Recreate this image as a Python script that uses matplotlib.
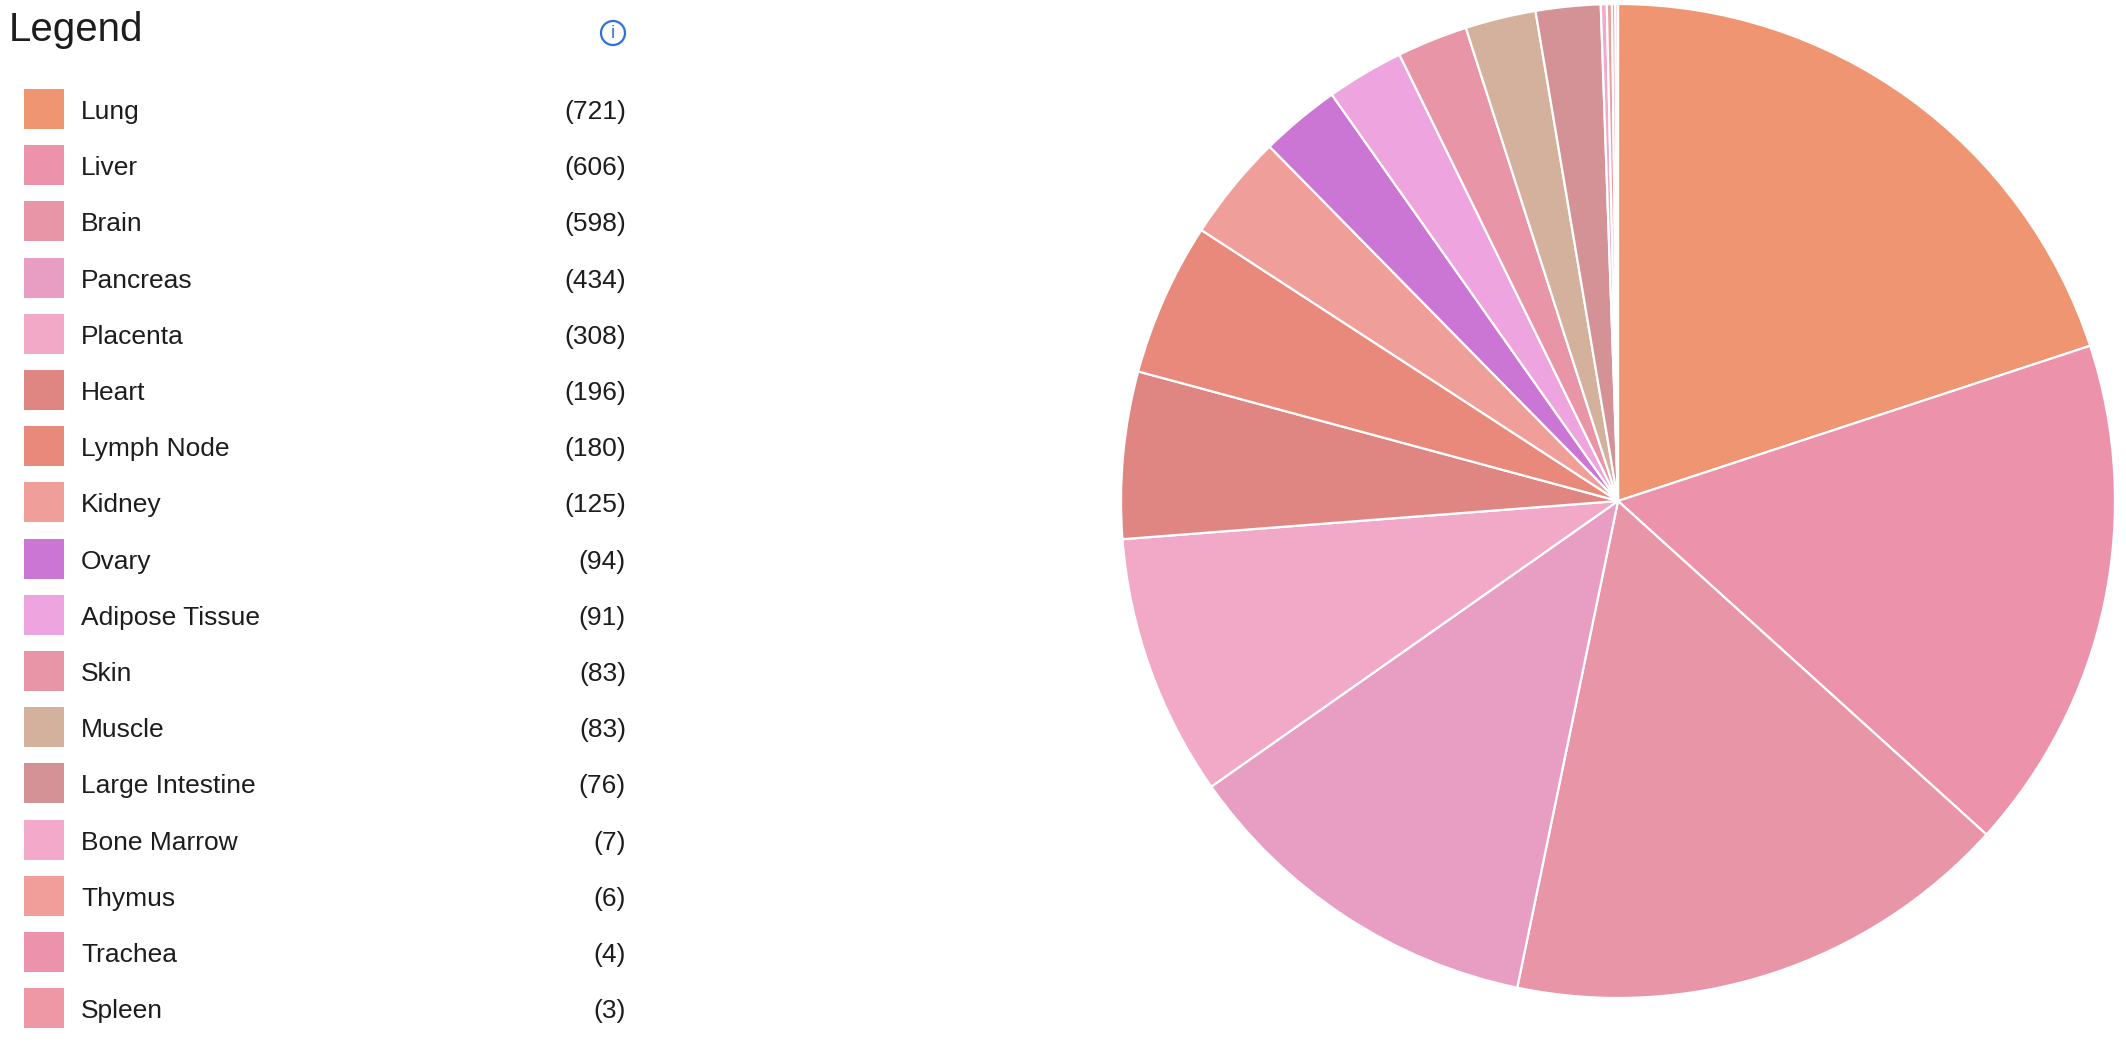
import matplotlib
matplotlib.use("Agg")
import matplotlib.pyplot as plt
from matplotlib.patches import Rectangle, Circle

categories = ["Lung", "Liver", "Brain", "Pancreas", "Placenta", "Heart", "Lymph Node",
              "Kidney", "Ovary", "Adipose Tissue", "Skin", "Muscle", "Large Intestine",
              "Bone Marrow", "Thymus", "Trachea", "Spleen"]
counts = [721, 606, 598, 434, 308, 196, 180, 125, 94, 91, 83, 83, 76, 7, 6, 4, 3]
colors = ["#EF9571", "#EC93AB", "#E895A8", "#E89EC2", "#F2A9C8", "#E08682", "#E8897C",
          "#F09E9A", "#CB76D4", "#EEA5DF", "#E895A8", "#D4B19C", "#D49296",
          "#F3A9C9", "#F19E9B", "#EC92AC", "#EE97A5"]

W, H = 2126, 1042
DPI = 100
plt.rcParams['font.family'] = ['Liberation Sans', 'DejaVu Sans']
fig = plt.figure(figsize=(W / DPI, H / DPI), dpi=DPI)

# Pie
cx, cy, r = 1618, 501, 497
pax = fig.add_axes([(cx - r) / W, (H - cy - r) / H, 2 * r / W, 2 * r / H])
pax.pie(counts, colors=colors, startangle=90, counterclock=False,
        wedgeprops=dict(edgecolor="white", linewidth=1.6))
pax.set_xlim(-1, 1)
pax.set_ylim(-1, 1)
pax.set_aspect("equal")
pax.axis("off")

# Legend overlay
lax = fig.add_axes([0, 0, 1, 1])
lax.set_xlim(0, W)
lax.set_ylim(H, 0)
lax.axis("off")

lax.text(9, 41, "Legend", fontsize=29, color="#1d1d1f", va="baseline", ha="left")
lax.add_patch(Circle((613, 33), 12, fill=False, edgecolor="#2f6fe0", linewidth=1.6))
lax.text(613, 34, "i", fontsize=13, color="#2f6fe0", ha="center", va="center")

y0, dy = 109, 56.2
for i, (name, cnt, col) in enumerate(zip(categories, counts, colors)):
    y = y0 + i * dy
    lax.add_patch(Rectangle((24, y - 20), 40, 40, facecolor=col, edgecolor="none"))
    lax.text(81, y + 10, name, fontsize=19, color="#1d1d1f", va="baseline", ha="left")
    lax.text(626, y + 10, f"({cnt})", fontsize=19, color="#1d1d1f", va="baseline", ha="right")

fig.savefig("out.png", dpi=DPI, facecolor="white")
